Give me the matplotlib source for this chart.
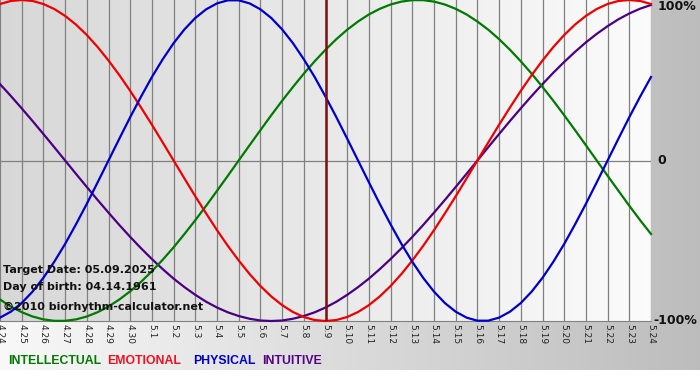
import numpy as np
import matplotlib
matplotlib.use("Agg")
import matplotlib.pyplot as plt

days = ["4.24", "4.25", "4.26", "4.27", "4.28", "4.29", "4.30",
        "5.1", "5.2", "5.3", "5.4", "5.5", "5.6", "5.7", "5.8", "5.9",
        "5.10", "5.11", "5.12", "5.13", "5.14", "5.15", "5.16", "5.17",
        "5.18", "5.19", "5.20", "5.21", "5.22", "5.23", "5.24"]
physical = [-0.979, -0.942, -0.888, -0.817, -0.731, -0.631, -0.520, -0.398, -0.270, -0.136,
            0.000, 0.136, 0.270, 0.398, 0.520, 0.631, 0.731, 0.817, 0.888, 0.942,
            0.979, 0.998, 0.998, 0.979, 0.942, 0.888, 0.817, 0.731, 0.631, 0.520,
            0.398, 0.270, 0.136, 0.000, -0.136, -0.270, -0.398, -0.520, -0.631, -0.731,
            -0.817, -0.888, -0.942, -0.979, -0.998, -0.998, -0.979, -0.942, -0.888, -0.817,
            -0.731, -0.631, -0.520, -0.398, -0.270, -0.136, 0.000, 0.136, 0.270, 0.398, 0.520]
emotional = [0.975, 0.994, 1.000, 0.994, 0.975, 0.944, 0.901, 0.847, 0.782, 0.707,
             0.623, 0.532, 0.434, 0.330, 0.223, 0.112, 0.000, -0.112, -0.223, -0.330,
             -0.434, -0.532, -0.623, -0.707, -0.782, -0.847, -0.901, -0.944, -0.975, -0.994,
             -1.000, -0.994, -0.975, -0.944, -0.901, -0.847, -0.782, -0.707, -0.623, -0.532,
             -0.434, -0.330, -0.223, -0.112, 0.000, 0.112, 0.223, 0.330, 0.434, 0.532,
             0.623, 0.707, 0.782, 0.847, 0.901, 0.944, 0.975, 0.994, 1.000, 0.994, 0.975]
intellectual = [-0.866, -0.910, -0.945, -0.972, -0.990, -0.999, -0.999, -0.990, -0.972, -0.945,
                -0.910, -0.866, -0.815, -0.756, -0.690, -0.618, -0.541, -0.458, -0.372, -0.282,
                -0.189, -0.095, 0.000, 0.095, 0.189, 0.282, 0.372, 0.458, 0.541, 0.618,
                0.690, 0.756, 0.815, 0.866, 0.910, 0.945, 0.972, 0.990, 0.999, 0.999,
                0.990, 0.972, 0.945, 0.910, 0.866, 0.815, 0.756, 0.690, 0.618, 0.541,
                0.458, 0.372, 0.282, 0.189, 0.095, 0.000, -0.095, -0.189, -0.282, -0.372, -0.458]
intuitive = [0.476, 0.402, 0.325, 0.246, 0.165, 0.083, 0.000, -0.083, -0.165, -0.246,
             -0.325, -0.402, -0.476, -0.547, -0.614, -0.677, -0.736, -0.789, -0.837, -0.880,
             -0.916, -0.946, -0.969, -0.986, -0.997, -1.000, -0.997, -0.986, -0.969, -0.946,
             -0.916, -0.880, -0.837, -0.789, -0.736, -0.677, -0.614, -0.547, -0.476, -0.402,
             -0.325, -0.246, -0.165, -0.083, 0.000, 0.083, 0.165, 0.246, 0.325, 0.402,
             0.476, 0.547, 0.614, 0.677, 0.736, 0.789, 0.837, 0.880, 0.916, 0.946, 0.969]
target_label = "5.9"
y_ticks = [1.0, 0.0, -1.0]
y_labels = ["100%", "0", "-100%"]
info_lines = ["Target Date: 05.09.2025", "Day of birth: 04.14.1961", "\u00a92010 biorhythm-calculator.net"]
legend_names = ["INTELLECTUAL", "EMOTIONAL", "PHYSICAL", "INTUITIVE"]

C_RED = "#ee0000"
C_BLUE = "#0000cc"
C_GREEN = "#007a00"
C_PURPLE = "#4b0082"

W, H = 700, 380
fig = plt.figure(figsize=(W / 100, H / 100), dpi=100)
fig.patch.set_facecolor("white")

# figure background gradient
bg = fig.add_axes([0, 0, 1, 1], zorder=-10)
bg.set_axis_off()
grad = np.linspace(0.975, 0.74, 256)[None, :]
bg.imshow(np.dstack([grad, grad, grad]), aspect="auto",
          extent=[0, W, H - 370, H], origin="upper")
bg.set_xlim(0, W)
bg.set_ylim(0, H)

# plot axes
ax = fig.add_axes([0, 59 / H, 651 / W, 321 / H])
xd = np.arange(len(days))
ax.set_xlim(0, len(days) - 1)
ax.set_ylim(-1, 1)
g2 = np.linspace(0.845, 0.985, 256)[None, :]
ax.imshow(np.dstack([g2, g2, g2]), aspect="auto",
          extent=[0, len(days) - 1, -1, 1], zorder=0)

for xi in xd:
    ax.axvline(xi, color="#808080", lw=0.9, zorder=1)
ax.axhline(0, color="#808080", lw=0.9, zorder=1)

xs = np.arange(len(physical)) * 0.5
ax.plot(xs, intuitive, color=C_PURPLE, lw=1.6, zorder=3, clip_on=False)
ax.plot(xs, intellectual, color=C_GREEN, lw=1.6, zorder=3, clip_on=False)
ax.plot(xs, emotional, color=C_RED, lw=1.6, zorder=3, clip_on=False)
ax.plot(xs, physical, color=C_BLUE, lw=1.6, zorder=3, clip_on=False)

ti = days.index(target_label)
ax.axvline(ti, color="#7a1010", lw=1.8, zorder=4)

for s in ["top", "left", "right"]:
    ax.spines[s].set_visible(False)
ax.spines["bottom"].set_color("#808080")
ax.set_xticks(xd)
ax.set_xticklabels(days, rotation=-90, fontsize=6.5, color="#222222",
                   family="DejaVu Sans")
ax.tick_params(axis="x", length=0, pad=2)
ax.set_yticks([])

# right labels
for v, lab in zip(y_ticks, y_labels):
    ax.text(len(days) - 1 + (0.3 if lab != "-100%" else 0.12), v, lab,
            fontsize=9, fontweight="bold", color="#111111",
            va="center" if v != 1.0 else "top", ha="left",
            family="DejaVu Sans", clip_on=False)

# info texts
for t, ypx in zip(info_lines, [270, 287, 307]):
    fig.text(3 / W, 1 - ypx / H, t, fontsize=8, fontweight="bold",
             color="#111111", va="center", ha="left", family="DejaVu Sans", zorder=2)

# legend
leg_colors = [C_GREEN, "#ee1122", "#0000cc", "#550088"]
leg_x = [8, 107, 193, 262]
for name, col, lx in zip(legend_names, leg_colors, leg_x):
    fig.text(lx / W, 1 - 361 / H, name, fontsize=8.8, fontweight="bold",
             color=col, va="center", ha="left", family="Liberation Sans")

fig.savefig("out.png", dpi=100, facecolor=fig.get_facecolor())
